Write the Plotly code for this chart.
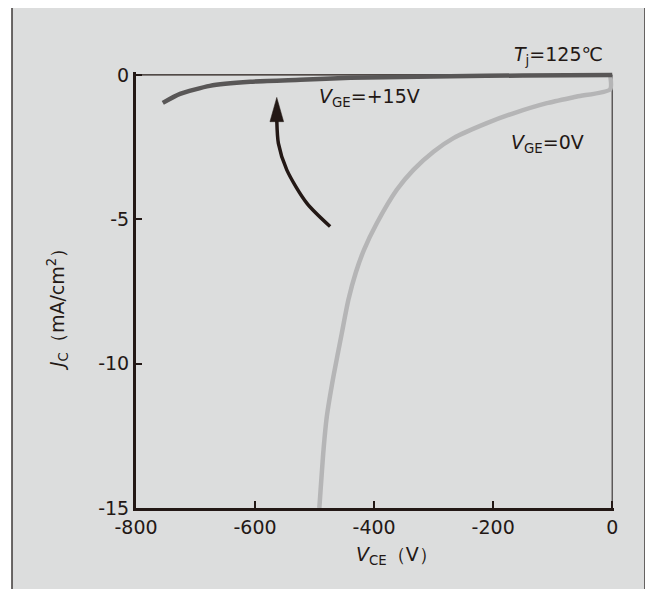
import plotly.graph_objects as go

# ---- data ----
VCE_15V = [-755, -726, -676, -608, -524, -440, -272, -150, 0]
JC_15V = [-0.97, -0.66, -0.38, -0.24, -0.17, -0.10, -0.05, -0.02, 0.0]

VCE_0V = [-492, -485, -479.5, -468.4, -454.3, -443.2, -431, -417, -395.5, -361.9,
          -334, -300.3, -266.7, -210.6, -165.9, -109.8, -59.3, -3.4, -3.4]
JC_0V = [-15.0, -12.99, -11.84, -10.45, -8.95, -7.79, -6.86, -6.06, -5.14, -3.98,
         -3.29, -2.66, -2.19, -1.67, -1.33, -0.98, -0.75, -0.50, 0.0]

ARROW_X = [-473.9, -513.1, -546.7, -560.8, -563.5, -563.5]
ARROW_Y = [-5.25, -4.44, -3.29, -2.37, -1.56, -1.45]
HEAD_X = [-563.5, -575.0, -552.0, -563.5]
HEAD_Y = [-0.78, -1.62, -1.62, -0.78]

X_TICKS = [-800, -600, -400, -200, 0]
X_TICKTEXT = ["-800", "-600", "-400", "-200", "0"]
Y_TICKS = [0, -5, -10, -15]
Y_TICKTEXT = ["0", "-5", "-10", "-15"]

# ---- layout constants (page body adds an 8px offset) ----
OFF = 8
W, H = 653, 589
ML, MT = 136 - OFF, 72 - OFF
PW, PH = 478, 436
MR, MB = W - ML - PW, H - MT - PH
DARK = "#231815"
FONT = "DejaVu Sans"
FS = 19


def px(x):
    return (x - OFF - ML) / PW


def py(y):
    return (H - MB - (y - OFF)) / PH


fig = go.Figure()
fig.add_trace(go.Scatter(x=VCE_0V, y=JC_0V, mode="lines", line=dict(color="#b5b5b6", width=4.5, shape="spline", smoothing=0.6), hoverinfo="skip"))
fig.add_trace(go.Scatter(x=VCE_15V, y=JC_15V, mode="lines", line=dict(color="#595757", width=4.5, shape="spline", smoothing=0.6), hoverinfo="skip"))
fig.add_trace(go.Scatter(x=ARROW_X, y=ARROW_Y, mode="lines", line=dict(color=DARK, width=3.5, shape="spline", smoothing=0.8), hoverinfo="skip"))
fig.add_trace(go.Scatter(x=HEAD_X, y=HEAD_Y, mode="lines", fill="toself", fillcolor=DARK, line=dict(color=DARK, width=0.5), hoverinfo="skip"))

fig.update_layout(
    width=W, height=H,
    margin=dict(l=ML, r=MR, t=MT, b=MB, pad=0),
    paper_bgcolor="white", plot_bgcolor="white",
    showlegend=False,
    font=dict(family=FONT, size=FS, color=DARK),
    xaxis=dict(range=[-800, 3], tickvals=X_TICKS, ticktext=X_TICKTEXT, ticks="inside", ticklen=7, tickwidth=1.5, tickcolor=DARK,
               showline=True, linewidth=3, linecolor=DARK, showgrid=False, zeroline=False, tickfont=dict(size=FS, color=DARK)),
    yaxis=dict(range=[-15, 0.1], tickvals=Y_TICKS, ticktext=Y_TICKTEXT, ticks="inside", ticklen=6, tickwidth=1.5, tickcolor=DARK,
               showline=True, linewidth=3, linecolor=DARK, showgrid=False, zeroline=False, tickfont=dict(size=FS, color=DARK)),
)

# grey frame behind everything
fig.add_shape(type="rect", xref="paper", yref="paper", x0=px(12), x1=px(645), y0=py(610), y1=py(6),
              fillcolor="#dcdddd", line=dict(color="#3e3a39", width=1.5), layer="below")
# thin top and right frame lines of the plot
fig.add_shape(type="line", xref="x", yref="y", x0=-800, x1=0, y0=0, y1=0, line=dict(color=DARK, width=1.2), layer="below")
fig.add_shape(type="line", xref="x", yref="y", x0=0, x1=0, y0=-15, y1=0, line=dict(color="#3e3a39", width=1.2), layer="below")

ann = dict(xref="paper", yref="paper", showarrow=False, font=dict(family=FONT, size=FS, color=DARK))
fig.add_annotation(x=px(558), y=py(55), text="<i>T</i><sub>j</sub>=125℃", xanchor="center", yanchor="middle", **ann)
fig.add_annotation(x=px(369), y=py(98), text="<i>V</i><sub>GE</sub>=+15V", xanchor="center", yanchor="middle", **ann)
fig.add_annotation(x=px(547), y=py(143), text="<i>V</i><sub>GE</sub>=0V", xanchor="center", yanchor="middle", **ann)
fig.add_annotation(x=px(397), y=py(555), text="<i>V</i><sub>CE</sub>（V）", xanchor="center", yanchor="middle", **ann)
fig.add_annotation(x=px(57), y=py(305), text="<i>J</i><sub>C</sub>（mA/cm<sup>2</sup>）", textangle=-90, xanchor="center", yanchor="middle", **ann)

fig.write_html("out.html")
